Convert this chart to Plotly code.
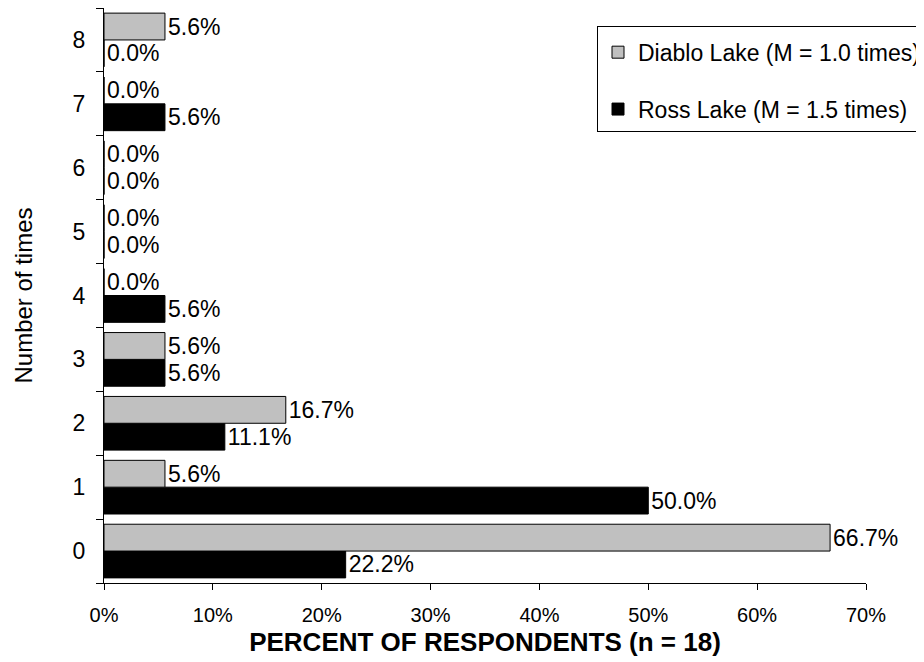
import plotly.graph_objects as go

times = ["0", "1", "2", "3", "4", "5", "6", "7", "8"]
diablo = [66.7, 5.6, 16.7, 5.6, 0.0, 0.0, 0.0, 0.0, 5.6]
ross = [22.2, 50.0, 11.1, 5.6, 5.6, 0.0, 0.0, 5.6, 0.0]
diablo_name = "Diablo Lake (M = 1.0 times)"
ross_name = "Ross Lake (M = 1.5 times)"

font = "Liberation Sans, Arial, sans-serif"

fig = go.Figure()
# plotly puts the first trace lower in each group, so Ross goes first
fig.add_trace(go.Bar(
    y=times, x=ross, orientation="h", name=ross_name,
    marker=dict(color="black", line=dict(color="black", width=1)),
    text=[f"{v:.1f}%" for v in ross], textposition="outside",
    textfont=dict(color="black", size=23, family=font),
    cliponaxis=False, legendrank=2, legendgroup="r",
))
fig.add_trace(go.Bar(
    y=times, x=diablo, orientation="h", name=diablo_name,
    marker=dict(color="#c0c0c0", line=dict(color="black", width=1)),
    text=[f"{v:.1f}%" for v in diablo], textposition="outside",
    textfont=dict(color="black", size=23, family=font),
    cliponaxis=False, legendrank=1, legendgroup="d",
))

fig.update_layout(
    width=924, height=662,
    margin=dict(l=96, r=66, t=0, b=87),
    plot_bgcolor="white", paper_bgcolor="white",
    font=dict(family=font, size=20, color="black"),
    barmode="group", bargap=0.16, bargroupgap=0,
    showlegend=True,
    legend=dict(
        x=0.647, y=0.969, xanchor="left", yanchor="top",
        bordercolor="black", borderwidth=1, bgcolor="white",
        font=dict(size=23), tracegroupgap=24, traceorder="grouped",
        itemwidth=30,
        title=dict(text=" ", font=dict(size=3)),
    ),
    uniformtext=dict(minsize=23, mode="show"),
)
fig.update_xaxes(
    range=[0, 70], dtick=10, ticksuffix="%",
    showline=True, linecolor="black", linewidth=1,
    ticks="outside", ticklen=6, tickcolor="black",
    showgrid=False, zeroline=False, automargin=False,
    ticklabelstandoff=8,
    title=dict(text="<b>PERCENT OF RESPONDENTS (n = 18)</b>", font=dict(size=26), standoff=7),
    tickfont=dict(size=20),
)
fig.update_yaxes(
    showline=True, linecolor="black", linewidth=1,
    ticks="outside", ticklen=7, tickcolor="black", tickson="boundaries",
    showgrid=False, automargin=False,
    ticklabelstandoff=13,
    title=dict(text="Number of times", font=dict(size=24), standoff=33),
    tickfont=dict(size=23),
)

fig.write_html("out.html")
